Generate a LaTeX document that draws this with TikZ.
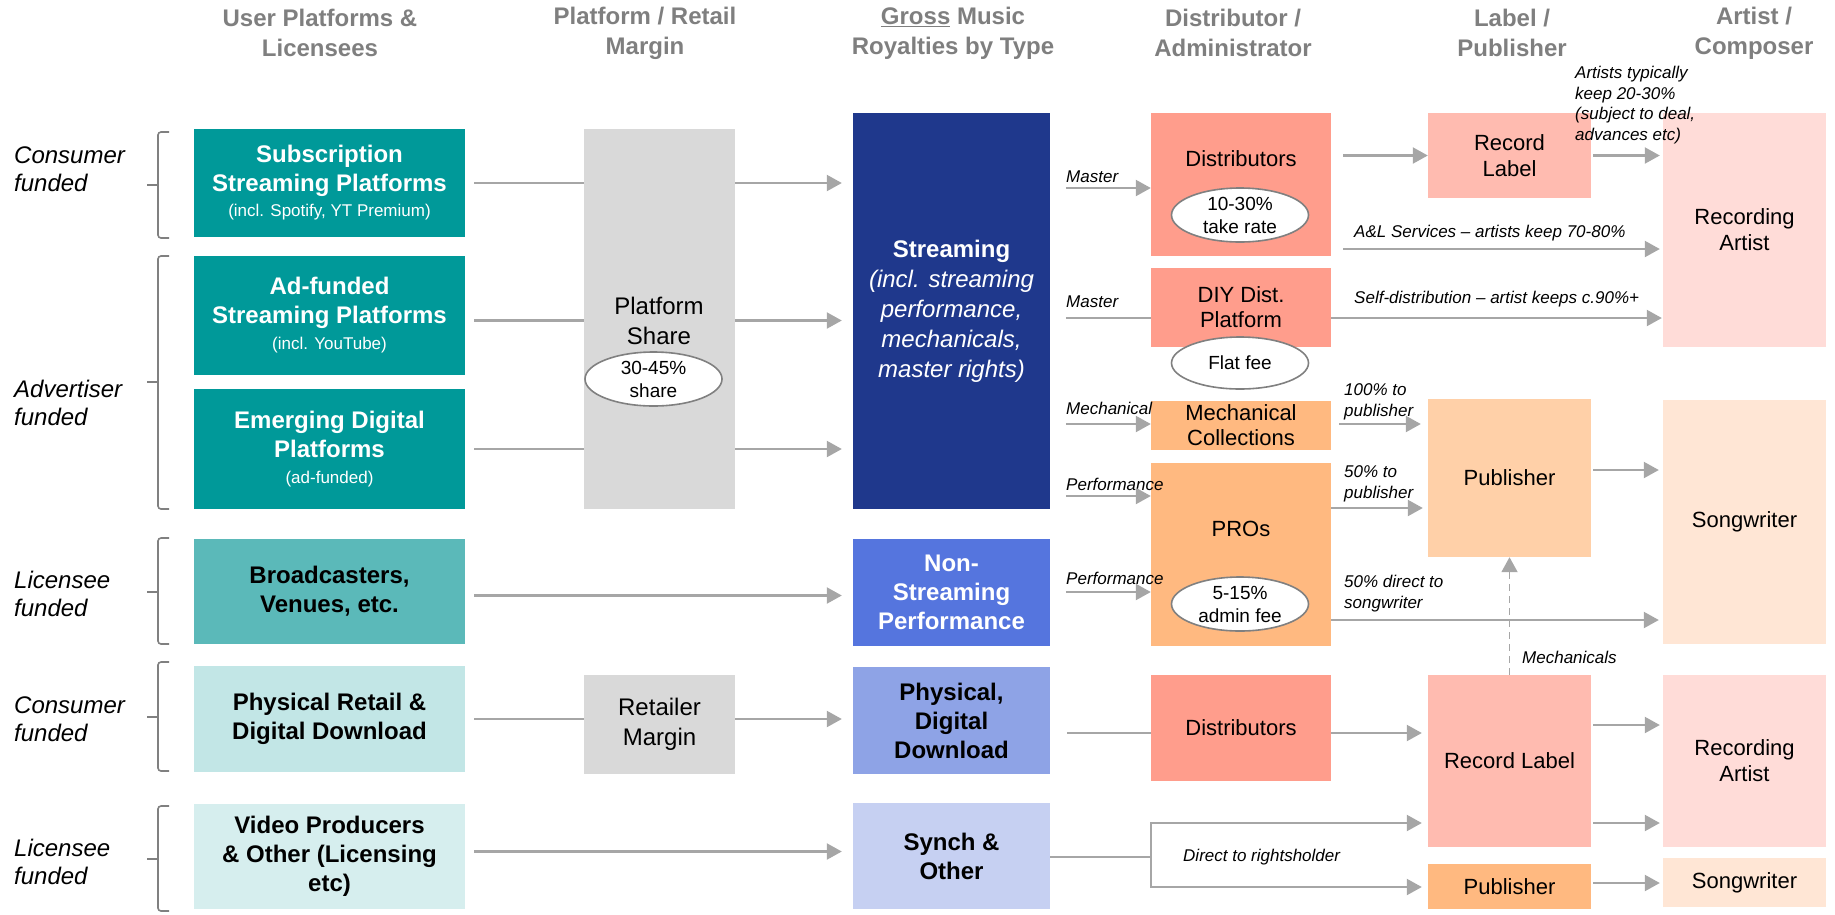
\documentclass[tikz,border=0pt]{standalone}
\usepackage{fontspec}
\setmainfont{Liberation Sans}
\usetikzlibrary{calc,arrows.meta,positioning,shapes.geometric}

\definecolor{hdrgray}{RGB}{127,127,127}
\definecolor{linegray}{RGB}{166,166,166}
\definecolor{brgray}{RGB}{128,128,128}
\definecolor{tealA}{RGB}{0,153,153}
\definecolor{tealB}{RGB}{91,185,185}
\definecolor{tealC}{RGB}{194,230,230}
\definecolor{tealD}{RGB}{214,238,238}
\definecolor{boxgray}{RGB}{217,217,217}
\definecolor{navyA}{RGB}{31,56,140}
\definecolor{blueB}{RGB}{85,117,222}
\definecolor{blueC}{RGB}{142,163,230}
\definecolor{blueD}{RGB}{198,208,242}
\definecolor{salmon}{RGB}{255,157,140}
\definecolor{orangeA}{RGB}{255,185,128}
\definecolor{labelpink}{RGB}{255,187,176}
\definecolor{pubpeach}{RGB}{255,208,168}
\definecolor{artistpink}{RGB}{255,220,216}
\definecolor{songpeach}{RGB}{255,230,213}

\newcommand{\fsz}[2]{\fontsize{#1}{#2}\selectfont}

\begin{document}
\begin{tikzpicture}[x=1pt, y=-1pt,
    hdr/.style={font=\fsz{24}{30}\bfseries, text=hdrgray, align=center, inner sep=0pt},
    side/.style={font=\fsz{24}{28}\itshape, align=left, anchor=west, inner sep=0pt},
    box/.style={rectangle, inner sep=0pt, align=center},
    srcbox/.style={box, minimum width=271, font=\fsz{24}{29}\bfseries},
    mgnbox/.style={box, fill=boxgray, minimum width=151, font=\fsz{24}{30}},
    roybox/.style={box, minimum width=197, font=\fsz{24}{29}\bfseries},
    dbox/.style={box, minimum width=180, font=\fsz{22}{25}},
    lbox/.style={box, minimum width=163, font=\fsz{22}{26}},
    oval/.style={ellipse, draw=brgray, line width=1.6pt, fill=white, minimum width=137, minimum height=54,
      inner xsep=0pt, inner ysep=-5pt, align=center, font=\fsz{19}{23}},
    note/.style={font=\fsz{17}{21}\itshape, align=left, anchor=west, inner sep=0pt},
    link/.style={draw=linegray, line width=2.2pt},
    flow/.style={link, -{Triangle[length=15pt, width=16pt]}},
    brace/.style={draw=brgray, line width=1.6pt, rounded corners=3pt}]
  \useasboundingbox (0,0) rectangle (1835,914);

  \node[hdr] (h1) at (320,33) {User Platforms \&\\Licensees};
  \node[hdr] (h2) at (645,33) {Platform / Retail\\Margin};
  \node[hdr] (h3) at (953,33) {\underline{Gross} Music\\Royalties by Type};
  \node[hdr] (h4) at (1233,33) {Distributor /\\Administrator};
  \node[hdr] (h5) at (1512,33) {Label /\\Publisher};
  \node[hdr] (h6) at (1754,33) {Artist /\\Composer};

  \node[side] (cons1) at (14,169) {Consumer\\funded};
  \node[side] (adv) at (14,403) {Advertiser\\funded};
  \node[side] (lic1) at (14,594) {Licensee\\funded};
  \node[side] (cons2) at (14,719) {Consumer\\funded};
  \node[side] (lic2) at (14,862) {Licensee\\funded};
  \foreach \t/\m/\b in {132/185/238, 256/382/509, 538/592/644, 662/717/771, 806/859/911} {
    \draw[brace] (169,\t) -- (158,\t) -- (158,\b) -- (169,\b);
    \draw[brace] (147,\m) -- (158,\m);
  }

  \node[srcbox, fill=tealA, text=white, minimum height=108] (sub) at (329.5,183)
    {Subscription\\Streaming Platforms\\[-4pt]{\fsz{17}{20}\mdseries (incl. Spotify, YT Premium)}};
  \node[srcbox, fill=tealA, text=white, minimum height=119] (ad) at (329.5,315.5)
    {Ad-funded\\Streaming Platforms\\[-3pt]{\fsz{17}{20}\mdseries (incl. YouTube)}};
  \node[srcbox, fill=tealA, text=white, minimum height=120] (emerg) at (329.5,449)
    {Emerging Digital\\Platforms\\[-3pt]{\fsz{17}{20}\mdseries (ad-funded)}};
  \node[srcbox, fill=tealB, minimum height=105] (broad) at (329.5,591.5) {Broadcasters,\\Venues, etc.};
  \node[srcbox, fill=tealC, minimum height=106] (phys) at (329.5,719) {Physical Retail \&\\Digital Download};
  \node[srcbox, fill=tealD, minimum height=105] (video) at (329.5,856.5) {Video Producers\\\& Other (Licensing\\etc)};

  \node[mgnbox, minimum height=380] (share) at (659.5,319) {};
  \node[box, font=\fsz{24}{30}] (shareT) at (659,321) {Platform\\Share};
  \node[oval] (shareO) at (653.5,379) {30-45\%\\share};
  \node[mgnbox, minimum height=99] (retail) at (659.5,724.5) {Retailer\\Margin};

  \node[roybox, fill=navyA, text=white, minimum height=396, font=\fsz{24}{30}] (stream) at (951.5,311)
    {\textbf{Streaming}\\\textit{(incl. streaming}\\\textit{performance,}\\\textit{mechanicals,}\\\textit{master rights)}};
  \node[roybox, fill=blueB, text=white, minimum height=107] (nonstream) at (951.5,592.5) {Non-\\Streaming\\Performance};
  \node[roybox, fill=blueC, minimum height=107] (physdig) at (951.5,720.5) {Physical,\\Digital\\Download};
  \node[roybox, fill=blueD, minimum height=106] (synch) at (951.5,856) {Synch \&\\Other};

  \node[dbox, fill=salmon, minimum height=143] (dist) at (1241,184.5) {};
  \node[box, font=\fsz{22}{25}] (distT) at (1241,159) {Distributors};
  \node[oval] (distO) at (1240,215) {10-30\%\\take rate};
  \node[dbox, fill=salmon, minimum height=79] (diy) at (1241,307.5) {DIY Dist.\\Platform};
  \node[oval, minimum height=52] (diyO) at (1240,363) {Flat fee};
  \node[dbox, fill=orangeA, minimum height=49] (mech) at (1241,425.5) {Mechanical\\Collections};
  \node[dbox, fill=orangeA, minimum height=183] (pros) at (1241,554.5) {};
  \node[box, font=\fsz{22}{25}] (prosT) at (1241,529) {PROs};
  \node[oval] (prosO) at (1240,604) {5-15\%\\admin fee};
  \node[dbox, fill=salmon, minimum height=106] (dist2) at (1241,728) {Distributors};

  \node[lbox, fill=labelpink, minimum height=85] (rl1) at (1509.5,155.5) {Record\\Label};
  \node[lbox, fill=pubpeach, minimum height=158] (pub1) at (1509.5,478) {Publisher};
  \node[lbox, fill=labelpink, minimum height=172] (rl2) at (1509.5,761) {Record Label};
  \node[lbox, fill=orangeA, minimum height=45] (pub2) at (1509.5,886.5) {Publisher};

  \node[lbox, fill=artistpink, minimum height=234] (art1) at (1744.5,230) {Recording\\Artist};
  \node[lbox, fill=songpeach, minimum height=244] (song1) at (1744.5,522) {Songwriter};
  \node[lbox, fill=artistpink, minimum height=172] (art2) at (1744.5,761) {Recording\\Artist};
  \node[lbox, fill=songpeach, minimum height=49] (song2) at (1744.5,882.5) {Songwriter};

  \node[note] (mst1) at (1066,177) {Master};
  \node[note] (mst2) at (1066,302) {Master};
  \node[note] (mchl) at (1066,408) {Mechanical};
  \node[note] (perf1) at (1066,484) {Performance};
  \node[note] (perf2) at (1066,578) {Performance};
  \node[note, font=\fsz{17}{20.7}\itshape] (keep) at (1575,105) {Artists typically\\keep 20-30\%\\(subject to deal,\\advances etc)};
  \node[note] (al) at (1354,233) {A\&L Services \textendash{} artists keep 70-80\%};
  \node[note] (self) at (1354,299) {Self-distribution \textendash{} artist keeps c.90\%+};
  \node[note] (p100) at (1344,401.5) {100\% to\\publisher};
  \node[note] (p50) at (1344,483.5) {50\% to\\publisher};
  \node[note] (d50) at (1344,593.5) {50\% direct to\\songwriter};
  \node[note] (mchs) at (1522,657) {Mechanicals};
  \node[note] (drh) at (1183,857) {Direct to rightsholder};

  \draw[link] ($(sub.east)+(9,0)$) -- (sub.east -| share.west);
  \draw[flow] (sub.east -| share.east) -- ($(sub.east -| stream.west)+(-11,0)$);
  \draw[link] ($(ad.east)+(9,5)$) -- ($(ad.east -| share.west)+(0,5)$);
  \draw[flow] ($(ad.east -| share.east)+(0,5)$) -- ($(ad.east -| stream.west)+(-11,5)$);
  \draw[link] ($(emerg.east)+(9,0)$) -- (emerg.east -| share.west);
  \draw[flow] (emerg.east -| share.east) -- ($(emerg.east -| stream.west)+(-11,0)$);
  \draw[flow] ($(broad.east)+(9,4)$) -- ($(broad.east -| nonstream.west)+(-11,4)$);
  \draw[link] ($(phys.east)+(9,0)$) -- (phys.east -| retail.west);
  \draw[flow] (phys.east -| retail.east) -- ($(phys.east -| physdig.west)+(-11,0)$);
  \draw[flow] ($(video.east)+(9,-5)$) -- ($(video.east -| synch.west)+(-11,-5)$);

  \draw[flow] ($(dist.west)+(-85,3.5)$) -- ($(dist.west)+(0,3.5)$);
  \draw[link] ($(diy.west)+(-85,10.5)$) -- ($(diy.west)+(0,10.5)$);
  \draw[flow] ($(mech.west)+(-85,-1.5)$) -- ($(mech.west)+(0,-1.5)$);
  \draw[flow] ($(pros.west)+(-85,-58.5)$) -- ($(pros.west)+(0,-58.5)$);
  \draw[flow] ($(pros.west)+(-85,37.5)$) -- ($(pros.west)+(0,37.5)$);
  \draw[link] ($(dist2.west)+(-84,5)$) -- ($(dist2.west)+(0,5)$);

  \draw[flow] ($(dist.east |- rl1.west)+(12,0)$) -- (rl1.west);
  \draw[flow] ($(dist.east)+(12,64.5)$) -- ($(dist.east -| art1.west)+(-3,64.5)$);
  \draw[flow] ($(diy.east)+(0,10.5)$) -- ($(diy.east -| art1.west)+(-1,10.5)$);
  \draw[flow] ($(mech.east)+(8,-1.5)$) -- ($(mech.east -| pub1.west)+(-7,-1.5)$);
  \draw[flow] ($(pros.east)+(0,-46.5)$) -- ($(pros.east -| pub1.west)+(-5,-46.5)$);
  \draw[flow] ($(pros.east)+(0,65.5)$) -- ($(pros.east -| song1.west)+(-4,65.5)$);
  \draw[flow] ($(dist2.east)+(0,5)$) -- ($(dist2.east -| rl2.west)+(-6,5)$);
  \coordinate (split) at ($(synch.east -| dist2.west)+(0,1)$);
  \draw[link] ($(synch.east)+(0,1)$) -- (split);
  \draw[flow] (split) |- ($(rl2.west)+(-6,62)$);
  \draw[flow] (split) |- ($(pub2.west)+(-6,0.5)$);

  \draw[flow] ($(rl1.east)+(2,0)$) -- ($(rl1.east -| art1.west)+(-3,0)$);
  \draw[flow] ($(pub1.east)+(2,-8)$) -- ($(pub1.east -| song1.west)+(-4,-8)$);
  \draw[flow] ($(rl2.east)+(2,-36)$) -- ($(rl2.east -| art2.west)+(-3,-36)$);
  \draw[flow] ($(rl2.east)+(2,62)$) -- ($(rl2.east -| art2.west)+(-3,62)$);
  \draw[flow] ($(pub2.east)+(2,-3.5)$) -- ($(pub2.east -| song2.west)+(-3,-3.5)$);
  \draw[flow, line width=1.8pt, dash pattern=on 7pt off 5pt] (rl2.north) -- (pub1.south);
\end{tikzpicture}
\end{document}
